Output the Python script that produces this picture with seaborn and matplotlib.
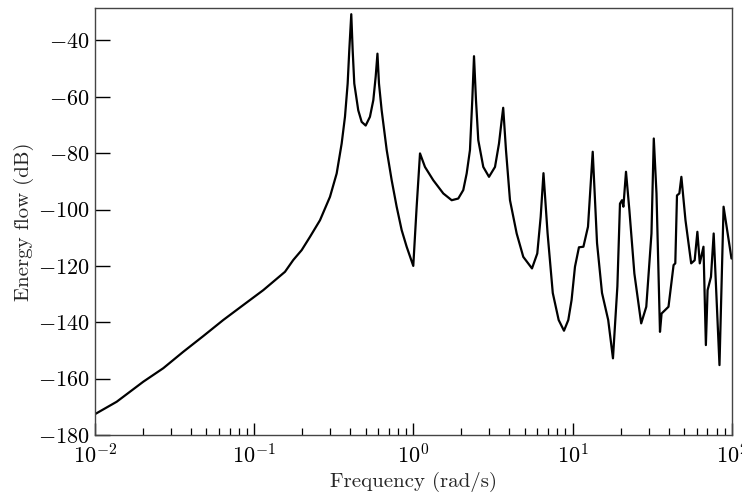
import numpy as np
import pandas as pd
import seaborn as sns
import matplotlib.pyplot as plt

# frequency (rad/s) and energy flow (dB)
freq = [0.0100, 0.01369, 0.0201, 0.02685, 0.0358, 0.04787, 0.0639, 0.0853, 0.1140,
        0.1560, 0.1759, 0.1986, 0.2239,
        0.2588, 0.2990, 0.3294, 0.354, 0.3714, 0.3861, 0.3952, 0.4068, 0.4151,
        0.4249, 0.4500, 0.4727, 0.5010, 0.5329, 0.5595, 0.5789, 0.594, 0.6072,
        0.6312, 0.679, 0.7296, 0.784, 0.843, 0.906, 0.997, 1.047, 1.099, 1.181,
        1.331, 1.539, 1.738, 1.911, 2.054, 2.158, 2.263, 2.340, 2.399, 2.469,
        2.552, 2.744, 2.980, 3.250, 3.443, 3.580, 3.659, 3.809, 4.036, 4.446,
        4.892, 5.548, 5.989, 6.291, 6.551, 6.950, 7.493, 8.16, 8.812, 9.38,
        9.835, 10.33, 10.94, 11.67, 12.47, 13.35, 14.21, 15.27, 16.70, 17.89,
        19.07, 19.80, 20.38, 20.80, 21.60, 22.68, 24.38, 26.91, 28.96, 31.22,
        32.28, 33.57, 35.31, 36.13, 39.93, 42.98, 44.06, 45.15, 46.72, 48.11,
        51.05, 55.43, 58.31, 60.63, 62.77, 66.22, 68.56, 70.27, 73.8, 76.75,
        83.47, 88.55, 99.3]
energy_db = [-172.6, -168.2, -161.1, -156.3, -150.5, -144.9, -139.2, -133.9, -128.6,
             -122.1, -117.9, -114.4, -109.7,
             -103.8, -95.5, -87.2, -76.6, -67.1, -55.3, -43.5, -30.7, -43.5,
             -55.3, -64.8, -68.9, -70.2, -67.1, -61.2, -52.9, -44.7, -55.3,
             -64.8, -78.9, -89.6, -99.0, -107.3, -113.2, -120.0, -99.0, -80.1, -84.9,
             -89.6, -94.3, -96.7, -96.1, -93.1, -87.2, -78.9, -61.2, -45.6, -61.2,
             -75.4, -84.9, -88.4, -84.9, -76.6, -68.3, -63.9, -78.9, -96.7, -108.5,
             -116.8, -120.9, -115.6, -102.6, -87.1, -108.4, -129.6, -139.2, -143.0, -139.2,
             -132.1, -120.3, -113.4, -113.2, -106.1, -79.5, -111.9, -129.6, -139.2, -152.8,
             -127.3, -97.9, -96.7, -99.0, -86.6, -100.2, -122.7, -140.4, -134.5, -108.5,
             -74.8, -94.3, -143.4, -136.9, -134.5, -119.7, -119.1, -95.0, -94.3, -88.4,
             -103.8, -119.1, -118.0, -107.9, -119.1, -113.2, -148.1, -128.6, -123.9, -108.5,
             -155.2, -99.0, -117.4]

df = pd.DataFrame({"freq": freq, "db": energy_db})

sns.set_theme(style="white")
plt.rcParams["font.family"] = ["serif"]
plt.rcParams["font.serif"] = ["cmr10", "DejaVu Serif"]
plt.rcParams["mathtext.fontset"] = "cm"
plt.rcParams["axes.formatter.use_mathtext"] = True

fig = plt.figure(figsize=(7.42, 5.0), dpi=100)
ax = fig.add_axes([0.128, 0.13, 0.8585, 0.854])

# draw the energy flow curve
sns.lineplot(data=df, x="freq", y="db", color="black", linewidth=1.6, ax=ax,
             sort=False, estimator=None)
ax.set_xscale("log")
ax.set_xlim(1e-2, 1e2)
ax.set_ylim(-180, -28.5)
ax.set_yticks(np.arange(-180, -39, 20))

ax.set_xlabel("Frequency (rad/s)", fontsize=15, labelpad=3)
ax.set_ylabel("Energy flow (dB)", fontsize=15, labelpad=3)

for s in ax.spines.values():
    s.set_color("#444444")
    s.set_linewidth(1.0)

ax.tick_params(axis="both", which="both", direction="in", colors="black",
               bottom=True, left=True, top=False, right=False, labelsize=16)
ax.tick_params(axis="y", which="major", length=11, width=1.0, pad=4)
ax.tick_params(axis="x", which="major", length=9, width=1.0, pad=6)
ax.tick_params(axis="x", which="minor", length=5, width=0.9)
ax.grid(False)

plt.savefig("out.png", dpi=100)
